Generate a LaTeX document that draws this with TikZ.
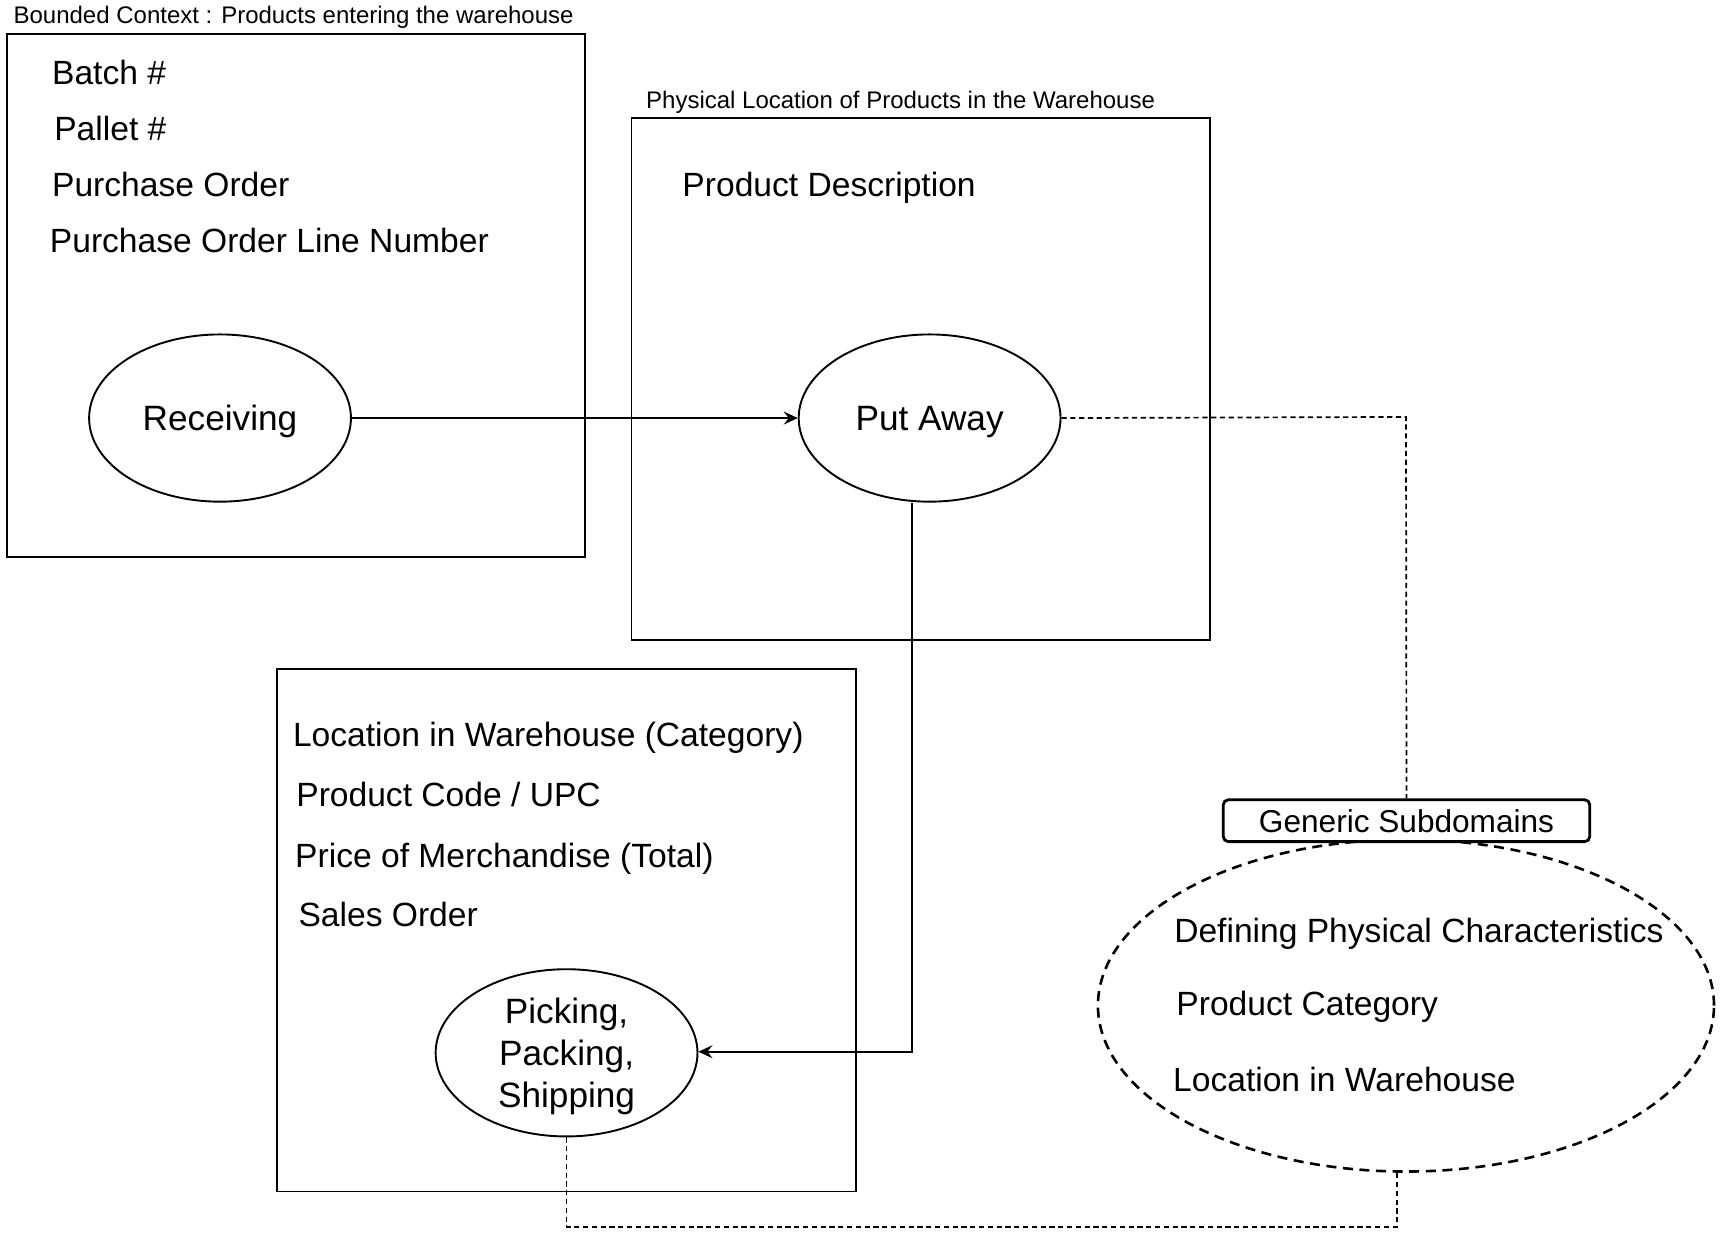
\documentclass[tikz,border=0pt]{standalone}
\usepackage{fontspec}
\setmainfont{Liberation Sans}
\usetikzlibrary{shapes.geometric,arrows.meta}
\begin{document}
\begin{tikzpicture}[x=0.55pt,y=-0.55pt,
  lbl/.style={anchor=west,inner sep=0pt,text height=12pt,text depth=0pt,font=\fontsize{16.8}{20}\selectfont},
  ttl/.style={anchor=west,inner sep=0pt,text height=8.6pt,text depth=0pt,font=\fontsize{12}{14}\selectfont},
  ctx/.style={draw,line width=0.95pt,minimum width=289.3pt,minimum height=261.25pt,inner sep=0pt},
  proc/.style={draw,ellipse,line width=0.95pt,minimum width=130.9pt,minimum height=83.6pt,inner sep=0pt,align=center,text height=12.7pt,text depth=0pt,font=\fontsize{17.6}{21}\selectfont},
  flow/.style={line width=0.95pt,-{Stealth[length=7pt,width=6.5pt,inset=2.5pt]}},
  link/.style={line width=0.85pt,dash pattern=on 2.6pt off 1.8pt},
  gsbox/.style={draw,line width=1.4pt,rounded corners=2.5pt,fill=white,minimum width=183.2pt,minimum height=20.9pt,inner sep=0pt,font=\fontsize{15.8}{18}\selectfont},
  gsell/.style={draw,ellipse,line width=1.3pt,dash pattern=on 5pt off 3.3pt,minimum width=308pt,minimum height=166pt,inner sep=0pt},
  ]
\path[use as bounding box] (0,0) rectangle (1568,1125);

% context boxes
\node[ctx] (b1) at (269,268.5) {};
\node[ctx] (b2) at (837,344.5) {};
\node[ctx] (b3) at (515,845.5) {};

\node[ttl] (t1) at (12,14) {Bounded Context : Products entering the warehouse};
\node[ttl] (t2) at (587,91) {Physical Location of Products in the Warehouse};

% box 1 texts
\node[lbl] (l11) at (47,66) {Batch \#};
\node[lbl] (l12) at (49,117) {Pallet \#};
\node[lbl] (l13) at (47,168) {Purchase Order};
\node[lbl] (l14) at (45,219) {Purchase Order Line Number};

% box 2 text
\node[lbl] (l21) at (620,168) {Product Description};

% box 3 texts
\node[lbl] (l31) at (266,668) {Location in Warehouse (Category)};
\node[lbl] (l32) at (269,722) {Product Code / UPC};
\node[lbl] (l33) at (268,778) {Price of Merchandise (Total)};
\node[lbl] (l34) at (271,831) {Sales Order};

% processes
\node[proc] (rec) at (200,380) {Receiving};
\node[proc] (put) at (845,380) {Put Away};
\node[proc,text height=54.7pt,text depth=0pt] (pick) at (515,957) {Picking,\\Packing,\\Shipping};

% generic subdomains
\node[gsell] (gse) at (1278,914) {};
\node[gsbox] (gs) at (1278.5,746) {Generic Subdomains};
\node[lbl] (g1) at (1067,846) {Defining Physical Characteristics};
\node[lbl] (g2) at (1069,912) {Product Category};
\node[lbl] (g3) at (1066,981) {Location in Warehouse};

% connectors
\draw[flow] (rec.east) -- (put.west);
\coordinate (c1) at (829,956);
\draw[flow] (put.south -| c1) -- (c1) -- (pick.east |- c1);
\coordinate (c2) at (1278,379);
\draw[link] (put.east) -- (c2) -- (gs.north);
\coordinate (c3) at (515,1115);
\coordinate (c4) at (1270,1115);
\draw[link] (pick.south) -- (c3) -- (c4) -- (gse.south -| c4);
\end{tikzpicture}
\end{document}
